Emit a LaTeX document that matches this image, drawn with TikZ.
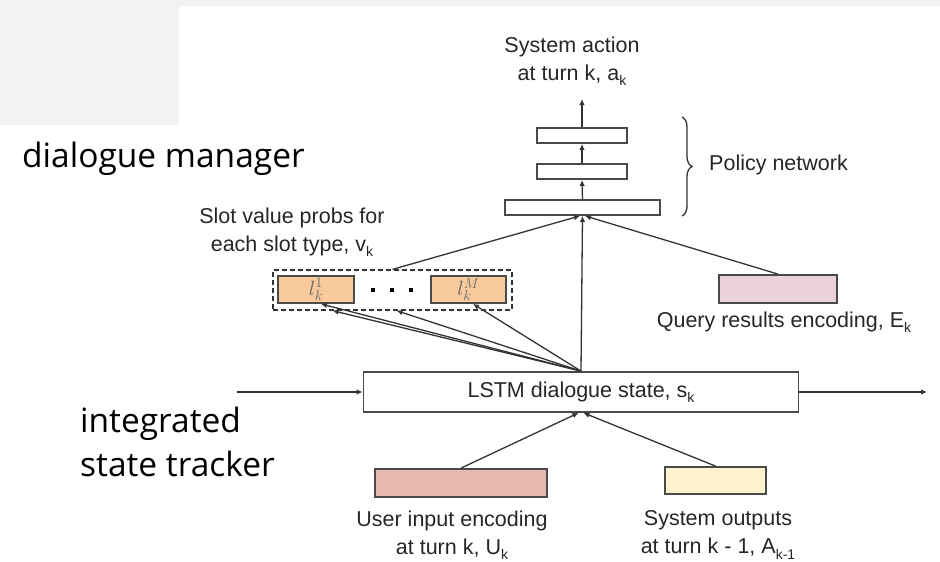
\documentclass[tikz,border=0pt]{standalone}
\usepackage{fontspec}
\setmainfont{Liberation Sans}
\newfontfamily\slidefont{Open Sans}
\usetikzlibrary{arrows.meta,calc,decorations.pathreplacing}

\definecolor{panelgray}{HTML}{F2F2F2}
\definecolor{linegray}{HTML}{333333}
\definecolor{boxgray}{HTML}{4A4A4A}
\definecolor{slotorange}{HTML}{F9CB9C}
\definecolor{querypink}{HTML}{EAD1DC}
\definecolor{userred}{HTML}{E6B8AF}
\definecolor{sysyellow}{HTML}{FFF2CC}

\newcommand\lowsub[1]{\raisebox{-0.45ex}{\fontsize{14}{14}\selectfont #1}}

\tikzset{
  layerbox/.style={draw=boxgray, line width=1.8pt, fill=white, inner sep=0pt},
  encbox/.style={draw=boxgray, line width=1.8pt, inner sep=0pt},
  conn/.style={draw=linegray, line width=1.3pt},
  arr/.style={conn, -{Latex[length=6pt,width=5.5pt]}},
  lbl/.style={font=\fontsize{21.5}{28}\selectfont, text=black!85, align=center, inner sep=0pt},
  side/.style={font=\slidefont\fontsize{33.5}{44}\selectfont, text=black, anchor=base west, inner sep=0pt, align=left},
  slotbox/.style={encbox, fill=slotorange, minimum height=27pt, font=\fontsize{20.74}{20.74}\selectfont, text=black!60},
}

\begin{document}
\begin{tikzpicture}[x=1pt,y=-1pt]
\useasboundingbox (0,0) rectangle (940,562);
% light grey slide backdrop
\fill[panelgray] (0,0) rectangle (940,6);
\fill[panelgray] (0,0) rectangle (179,125);

% policy network layers
\node[layerbox, minimum width=90pt, minimum height=15pt] (p1) at (582,135.5) {};
\node[layerbox, minimum width=90pt, minimum height=15pt] (p2) at (582,171.5) {};
\node[layerbox, minimum width=155pt, minimum height=15pt] (p3) at (582.5,207.5) {};
\coordinate (act) at (582,99);

% slot value distributions
\node[draw=linegray, dash pattern=on 5pt off 3pt, line width=1.3pt, minimum width=239pt, minimum height=40pt, inner sep=0pt] (slots) at (392.5,290) {};
\node[slotbox, minimum width=76pt] (l1) at (316,289.5) {$l_k^1$};
\node[slotbox, minimum width=75pt] (lM) at (468.5,289.5) {$l_k^M$};
\foreach \dx [count=\i] in {373,392,411}
  \fill[black] (\dx-2.4,287.6) rectangle (\dx+2.4,292.4);

% query results and LSTM state
\node[encbox, fill=querypink, minimum width=118pt, minimum height=28pt] (query) at (778,289) {};
\node[layerbox, minimum width=435pt, minimum height=40pt, font=\fontsize{21.5}{21.5}\selectfont, text=black!85] (lstm) at (581,392) {LSTM dialogue state, s\lowsub{k}};
\coordinate (prev) at (237,392);
\coordinate (next) at (927,392);

% inputs
\node[encbox, fill=userred, minimum width=172pt, minimum height=28pt] (user) at (461,483) {};
\node[encbox, fill=sysyellow, minimum width=101pt, minimum height=27pt] (sysout) at (715.5,480.5) {};

% policy stack connectors
\draw[arr] (p1.north) -- (act);
\draw[arr] (p2.north) -- (p1.south);
\draw[arr] (p3.north) -- (p2.south);
\draw[arr] (slots.north) -- ($(p3.south)+(-2.5,0)$);
\draw[arr] (query.north) -- ($(p3.south)+(2.5,0)$);
\draw[arr] (lstm.north) -- (p3.south);

% LSTM state to slot outputs
\draw[arr] (lstm.north) -- ($(l1.south)+(5,0)$);
\draw[arr] (lstm.north) -- ($(slots.south)+(-60,0)$);
\draw[arr] (lstm.north) -- ($(slots.south)+(4,0)$);
\draw[arr] (lstm.north) -- ($(lM.south)+(4.5,0)$);

% recurrence and inputs
\draw[arr] (prev) -- (lstm.west);
\draw[arr] (lstm.east) -- (next);
\draw[arr] (user.north) -- ($(lstm.south)+(-2.5,0)$);
\draw[arr] (sysout.north) -- ($(lstm.south)+(2.5,0)$);

% brace around the policy network
\draw[linegray, line width=1.3pt, decorate, decoration={brace, amplitude=10pt}] (682,117) -- (682,216);

% labels
\node[lbl] (actlbl) at (572,61) {System action\\at turn k, a\lowsub{k}};
\node[lbl, anchor=west] (pollbl) at (709,165) {Policy network};
\node[lbl] (slotlbl) at (292,232) {Slot value probs for\\each slot type, v\lowsub{k}};
\node[lbl] (qlbl) at (784,322) {Query results encoding, E\lowsub{k}};
\node[lbl] (ulbl) at (452,535) {User input encoding\\at turn k, U\lowsub{k}};
\node[lbl] (slbl) at (718,535) {System outputs\\at turn k - 1, A\lowsub{k-1}};

% slide captions
\node[side] (dm) at (22,167) {dialogue manager};
\node[side] (ist) at (80,476) {integrated\\state tracker};
\end{tikzpicture}
\end{document}
